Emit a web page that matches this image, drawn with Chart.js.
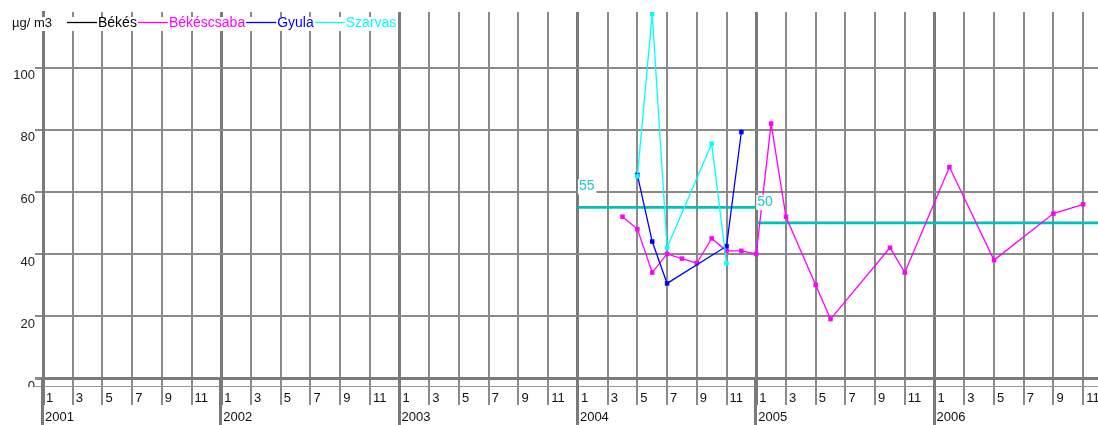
<!DOCTYPE html>
<html>
<head>
<meta charset="utf-8">
<script src="https://cdn.jsdelivr.net/npm/chart.js@4.4.0/dist/chart.umd.min.js"></script>
<style>
  html, body { margin: 0; padding: 0; background: #fff; }
</style>
</head>
<body>
<canvas id="chart" width="1098" height="425"></canvas>
<script>
// axis labels
const years = ['2001', '2002', '2003', '2004', '2005', '2006'];
const monthTicks = ['1', '3', '5', '7', '9', '11'];
const unit = 'µg/ m3';

// monthly means per station
const seriesNames = ['Békés', 'Békéscsaba', 'Gyula', 'Szarvas'];
const seriesColors = ['#000000', '#ff00ff', '#0000ff', '#00ffff'];

const bekesMonths = [];
const bekesValues = [];

const csabaMonths = ['2004-04', '2004-05', '2004-06', '2004-07', '2004-08', '2004-09', '2004-10', '2004-11', '2004-12',
                     '2005-01', '2005-02', '2005-03', '2005-05', '2005-06', '2005-10', '2005-11',
                     '2006-02', '2006-05', '2006-09', '2006-11'];
const csabaValues = [52, 48, 34, 40, 38.5, 37, 45, 41, 41,
                     40, 82, 52, 30, 19, 42, 34,
                     68, 38, 53, 56];

const gyulaMonths = ['2004-05', '2004-06', '2004-07', '2004-11', '2004-12'];
const gyulaValues = [65.5, 44, 30.5, 42.5, 79.3];

const szarvasMonths = ['2004-05', '2004-06', '2004-07', '2004-10', '2004-11'];
const szarvasValues = [65, 117.4, 42, 75.5, 37];

// limit values and the periods they apply to
const limitStart = ['2004-01', '2005-01'];
const limitEnd = ['2005-01', '2006-12'];
const limitValues = [55, 50];
const limitColor = '#00bfbf';

const fontFamily = "'Liberation Sans', Arial, sans-serif";
const gridGrey = '#8a8a8a';
const yearGrey = '#7a7a7a';

function monthIndex(s) {
  const [y, m] = s.split('-').map(Number);
  return (y - 2001) * 12 + (m - 1);
}

function points(months, values) {
  return months.map((m, i) => ({ x: monthIndex(m), y: values[i] }));
}

const seriesData = [
  points(bekesMonths, bekesValues),
  points(csabaMonths, csabaValues),
  points(gyulaMonths, gyulaValues),
  points(szarvasMonths, szarvasValues)
];

const datasets = seriesNames.map((name, i) => ({
  label: name,
  data: seriesData[i],
  borderColor: seriesColors[i],
  backgroundColor: seriesColors[i],
  borderWidth: 1.3,
  pointStyle: 'rect',
  pointRadius: 3.2,
  pointHoverRadius: 3.2,
  pointBorderWidth: 0,
  tension: 0,
  order: 4 - i
}));

limitValues.forEach((v, i) => {
  datasets.push({
    label: String(v),
    isLimit: true,
    data: [{ x: monthIndex(limitStart[i]), y: v }, { x: monthIndex(limitEnd[i]), y: v }],
    borderColor: limitColor,
    borderWidth: 2.6,
    pointRadius: 0,
    order: 10
  });
});

const decor = {
  id: 'decor',
  afterDraw(chart) {
    const ctx = chart.ctx;
    const xs = chart.scales.x;
    const ys = chart.scales.y;
    const area = chart.chartArea;
    ctx.save();

    // hide lower half of the zero label, like the axis band does
    ctx.fillStyle = '#fff';
    ctx.fillRect(0, 387, 34, 12);

    // second rule under the zero line
    ctx.strokeStyle = '#9a9a9a';
    ctx.lineWidth = 1;
    ctx.beginPath();
    ctx.moveTo(35, 386.5);
    ctx.lineTo(chart.width, 386.5);
    ctx.stroke();

    // year lines run down to the bottom edge
    ctx.strokeStyle = yearGrey;
    ctx.lineWidth = 3;
    years.forEach((y, i) => {
      const px = Math.round(xs.getPixelForValue(i * 12)) - 0.5;
      ctx.beginPath();
      ctx.moveTo(px, area.bottom);
      ctx.lineTo(px, chart.height);
      ctx.stroke();
    });

    // month and year labels
    ctx.font = '13px ' + fontFamily;
    ctx.textBaseline = 'middle';
    ctx.textAlign = 'left';
    ctx.fillStyle = '#111';
    xs.ticks.forEach(t => {
      const label = monthTicks[(t.value % 12) / 2];
      ctx.fillText(label, xs.getPixelForValue(t.value) + 3, 398);
    });
    years.forEach((y, i) => {
      ctx.fillText(y, xs.getPixelForValue(i * 12) + 2, 417);
    });

    // limit labels
    ctx.font = '14px ' + fontFamily;
    limitValues.forEach((v, i) => {
      const px = xs.getPixelForValue(monthIndex(limitStart[i])) + 1;
      const py = ys.getPixelForValue(v) - 21;
      const w = ctx.measureText(String(v)).width;
      ctx.fillStyle = '#fff';
      ctx.fillRect(px - 1, py - 7, w + 3, 15);
      ctx.fillStyle = '#1ec8cc';
      ctx.fillText(String(v), px, py);
    });

    // legend strip
    ctx.fillStyle = '#fff';
    ctx.fillRect(0, 17, 396, 14);
    ctx.font = '13px ' + fontFamily;
    ctx.fillStyle = '#111';
    ctx.fillText(unit, 12, 23);
    ctx.font = '14px ' + fontFamily;
    let x = 67;
    chart.data.datasets.filter(d => !d.isLimit).forEach(ds => {
      ctx.strokeStyle = ds.borderColor;
      ctx.lineWidth = 1.3;
      ctx.beginPath();
      ctx.moveTo(x, 22.5);
      ctx.lineTo(x + 30, 22.5);
      ctx.stroke();
      x += 31;
      ctx.fillStyle = ds.borderColor;
      ctx.fillText(ds.label, x, 23);
      x += ctx.measureText(ds.label).width + 1;
    });

    ctx.restore();
  }
};

new Chart(document.getElementById('chart'), {
  type: 'line',
  data: { datasets: datasets },
  options: {
    responsive: false,
    animation: false,
    devicePixelRatio: 1,
    layout: { autoPadding: false, padding: { top: 12, right: 0, left: 0, bottom: 0 } },
    plugins: {
      legend: { display: false },
      tooltip: { enabled: false }
    },
    scales: {
      x: {
        type: 'linear',
        min: 0,
        max: 71,
        afterFit: s => { s.height = 47; s.paddingLeft = 0; s.paddingRight = 0; },
        ticks: { stepSize: 2, includeBounds: false, autoSkip: false, display: false },
        grid: {
          color: c => (c.tick && c.tick.value % 12 === 0) ? yearGrey : gridGrey,
          lineWidth: c => (c.tick && c.tick.value % 12 === 0) ? 3 : 2,
          tickLength: 27
        },
        border: { color: yearGrey, width: 3 }
      },
      y: {
        min: 0,
        max: 118,
        afterFit: s => { s.width = 43; s.paddingTop = 0; s.paddingBottom = 0; },
        ticks: {
          stepSize: 20,
          includeBounds: false,
          padding: 0,
          labelOffset: 8,
          color: '#222',
          font: { family: fontFamily, size: 13 }
        },
        grid: {
          color: gridGrey,
          lineWidth: c => (c.tick && c.tick.value === 0) ? 3 : 2,
          tickLength: 8
        },
        border: { color: yearGrey, width: 3 }
      }
    }
  },
  plugins: [decor]
});
</script>
</body>
</html>
